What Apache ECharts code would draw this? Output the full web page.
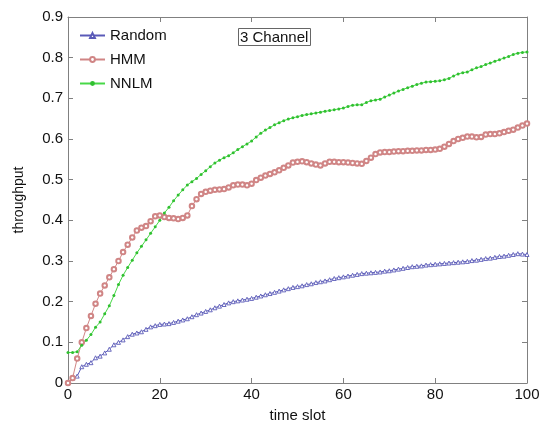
<!DOCTYPE html>
<html>
<head>
<meta charset="utf-8">
<script src="https://cdn.jsdelivr.net/npm/echarts@6/dist/echarts.min.js"></script>
<style>
html,body{margin:0;padding:0;background:#fff;}
#chart{width:545px;height:428px;}
</style>
</head>
<body>
<div id="chart"></div>
<script>
const timeSlots = Array.from({length: 101}, (_, i) => i);
const xTicks = [0, 20, 40, 60, 80, 100];
const yTicks = [0, 0.1, 0.2, 0.3, 0.4, 0.5, 0.6, 0.7, 0.8, 0.9];
const seriesNames = ['Random', 'HMM', 'NNLM'];

const randomVals = [0,0.012,0.017,0.04,0.046,0.05,0.062,0.066,0.074,0.083,
0.094,0.1,0.106,0.114,0.12,0.123,0.126,0.132,0.138,0.141,
0.144,0.145,0.146,0.149,0.152,0.155,0.158,0.163,0.168,0.172,
0.176,0.18,0.185,0.189,0.193,0.197,0.2,0.202,0.204,0.206,
0.208,0.211,0.214,0.217,0.22,0.223,0.226,0.229,0.232,0.235,
0.237,0.239,0.242,0.244,0.247,0.249,0.251,0.254,0.257,0.259,
0.261,0.263,0.265,0.267,0.269,0.27,0.271,0.272,0.273,0.275,
0.276,0.278,0.28,0.282,0.284,0.286,0.287,0.288,0.29,0.291,
0.292,0.293,0.294,0.295,0.296,0.297,0.298,0.299,0.301,0.302,
0.304,0.306,0.307,0.309,0.311,0.312,0.314,0.316,0.318,0.317,0.316];

const hmmVals = [0,0.012,0.06,0.1,0.135,0.165,0.195,0.22,0.24,0.26,
0.28,0.3,0.322,0.34,0.358,0.375,0.382,0.386,0.398,0.41,
0.412,0.408,0.406,0.405,0.403,0.406,0.412,0.435,0.452,0.465,
0.47,0.473,0.475,0.476,0.477,0.481,0.486,0.488,0.488,0.486,
0.49,0.499,0.505,0.51,0.514,0.518,0.523,0.529,0.535,0.542,
0.544,0.545,0.543,0.54,0.537,0.535,0.54,0.544,0.544,0.543,
0.543,0.542,0.541,0.54,0.539,0.546,0.554,0.563,0.567,0.568,
0.568,0.569,0.57,0.57,0.571,0.571,0.572,0.572,0.573,0.573,
0.574,0.576,0.581,0.588,0.595,0.6,0.603,0.606,0.606,0.604,
0.605,0.611,0.612,0.612,0.614,0.617,0.62,0.623,0.628,0.633,0.638];

const nnlmVals = [0.075,0.075,0.077,0.093,0.105,0.119,0.137,0.15,0.17,0.19,
0.215,0.242,0.265,0.284,0.302,0.32,0.336,0.352,0.368,0.384,
0.4,0.418,0.432,0.448,0.462,0.475,0.487,0.495,0.503,0.513,
0.522,0.532,0.541,0.548,0.554,0.559,0.566,0.574,0.581,0.588,
0.595,0.605,0.614,0.622,0.628,0.635,0.64,0.645,0.649,0.652,
0.655,0.658,0.66,0.662,0.664,0.666,0.668,0.67,0.672,0.674,
0.676,0.68,0.683,0.684,0.684,0.69,0.694,0.696,0.698,0.703,
0.708,0.713,0.718,0.722,0.726,0.73,0.734,0.737,0.74,0.741,
0.742,0.743,0.746,0.749,0.755,0.76,0.763,0.765,0.77,0.775,
0.778,0.783,0.787,0.791,0.795,0.799,0.803,0.808,0.811,0.813,0.814];

const FONT = 'Liberation Sans, Arial, sans-serif';
const frameColor = '#808080';

function pairs(vals) { return timeSlots.map((t, i) => [t, vals[i]]); }

const chart = echarts.init(document.getElementById('chart'), null, {renderer: 'canvas'});
const baseAxisLine = {show: true, onZero: false, lineStyle: {color: frameColor, width: 1}};
const tick = {show: true, inside: true, length: 5, lineStyle: {color: frameColor}};

chart.setOption({
  animation: false,
  backgroundColor: '#fff',
  title: {
    text: '3 Channel', left: 238, top: 28,
    borderColor: '#666', borderWidth: 1, padding: [2, 2, 1, 2],
    textStyle: {fontFamily: FONT, fontSize: 15, fontWeight: 'normal', color: '#111'}
  },
  legend: {
    data: seriesNames, orient: 'vertical', left: 74, top: 23,
    itemWidth: 25, itemHeight: 6, itemGap: 9,
    textStyle: {fontFamily: FONT, fontSize: 15, color: '#111'}
  },
  grid: {left: 68, right: 18, top: 17, bottom: 34, containLabel: false},
  xAxis: [{
    type: 'value', min: 0, max: 100, interval: 20,
    name: 'time slot', nameLocation: 'middle', nameGap: 25,
    nameTextStyle: {fontFamily: FONT, fontSize: 15, color: '#111'},
    axisLine: baseAxisLine, axisTick: tick, splitLine: {show: false},
    axisLabel: {fontFamily: FONT, fontSize: 15, color: '#111', margin: 4,
      formatter: v => xTicks.includes(Math.round(v)) ? String(Math.round(v)) : ''}
  }, {
    type: 'value', min: 0, max: 100, interval: 20, position: 'top',
    axisLine: baseAxisLine, axisTick: tick, axisLabel: {show: false}, splitLine: {show: false}
  }],
  yAxis: [{
    type: 'value', min: 0, max: 0.9, interval: 0.1,
    name: 'throughput', nameLocation: 'middle', nameGap: 42,
    nameTextStyle: {fontFamily: FONT, fontSize: 14, color: '#111'},
    axisLine: baseAxisLine, axisTick: tick, splitLine: {show: false},
    axisLabel: {fontFamily: FONT, fontSize: 15, color: '#111', margin: 5,
      formatter: v => { const r = Math.round(v * 10) / 10; return yTicks.includes(r) ? String(r) : ''; }}
  }, {
    type: 'value', min: 0, max: 0.9, interval: 0.1, position: 'right',
    axisLine: baseAxisLine, axisTick: tick, axisLabel: {show: false}, splitLine: {show: false}
  }],
  series: [
    {name: 'Random', type: 'line', data: pairs(randomVals), symbol: 'triangle', symbolSize: 4,
      showAllSymbol: true,
      lineStyle: {color: '#5a5ab8', width: 1}, itemStyle: {color: '#fff', borderColor: '#5a5ab8', borderWidth: 0.9}, color: '#5a5ab8'},
    {name: 'HMM', type: 'line', data: pairs(hmmVals), symbol: 'emptyCircle', symbolSize: 4.5,
      showAllSymbol: true,
      lineStyle: {color: '#d08585', width: 1}, itemStyle: {color: '#d08585', borderColor: '#d08585', borderWidth: 0.7}, color: '#d08585'},
    {name: 'NNLM', type: 'line', data: pairs(nnlmVals), symbol: 'circle', symbolSize: 3,
      showAllSymbol: true,
      lineStyle: {color: '#48d848', width: 1}, itemStyle: {color: '#30c030'}, color: '#48d848'}
  ]
});
</script>
</body>
</html>
